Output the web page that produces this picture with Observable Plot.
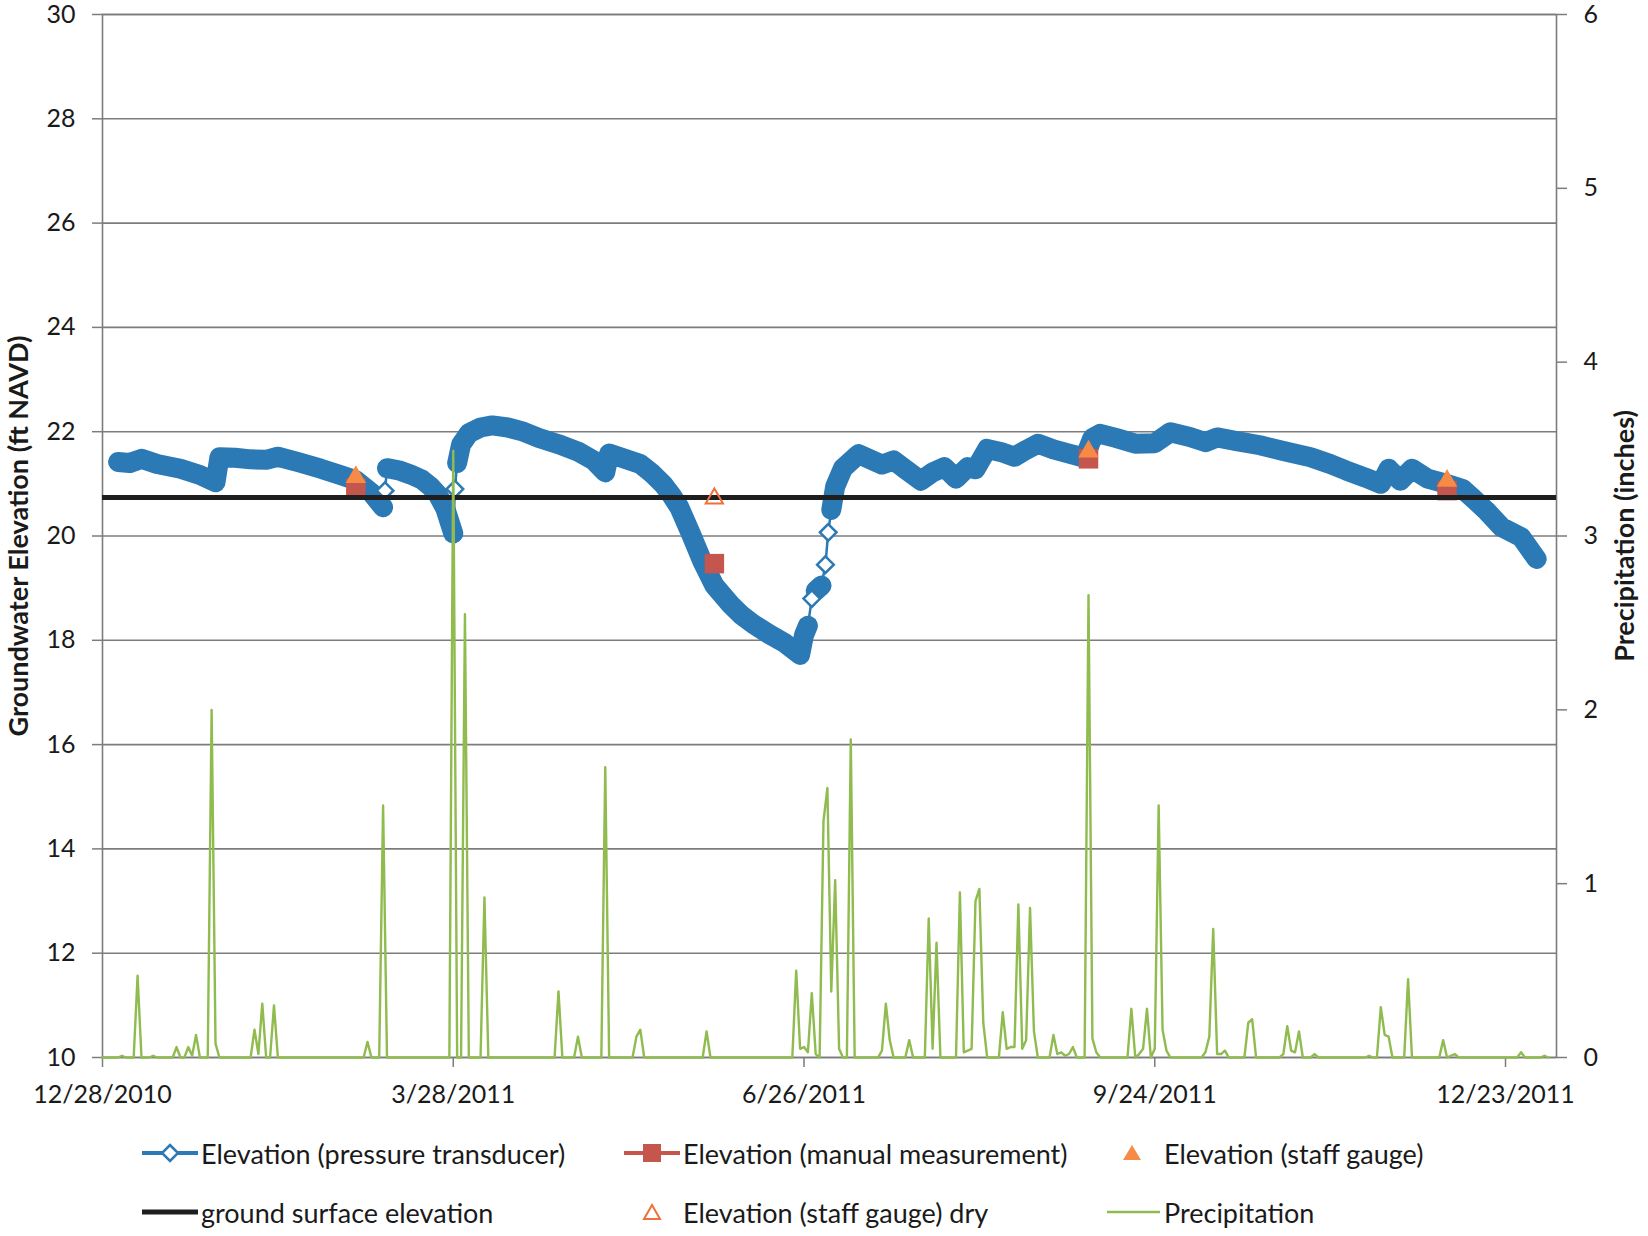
<!DOCTYPE html>
<html>
<head>
<meta charset="utf-8">
<script src="https://cdn.jsdelivr.net/npm/d3@7"></script>
<script src="https://cdn.jsdelivr.net/npm/@observablehq/plot@0.6"></script>
<style>
  html, body { margin: 0; padding: 0; background: #fff; }
  #chart { position: relative; width: 1648px; height: 1236px; font-family: Lato, "Open Sans", sans-serif; color: #1a1a1a; }
  #chart svg { display: block; }
  .legend-item { position: absolute; display: flex; align-items: center; height: 36px; font-size: 27px; white-space: nowrap; }
  .legend-item svg { flex: none; }
</style>
</head>
<body>
<div id="chart"></div>
<script>
// ---- Axes ----
const dateDomain = ["2010-12-28", "2012-01-05T02:00"];
const dateTicks = ["2010-12-28", "2011-03-28", "2011-06-26", "2011-09-24", "2011-12-23"];
const elevationDomain = [10, 30];
const elevationTicks = [10, 12, 14, 16, 18, 20, 22, 24, 26, 28, 30];
const precipMax = 6;
const precipTicks = [0, 1, 2, 3, 4, 5, 6];

// ---- Groundwater elevation, pressure transducer (ft NAVD) ----
const transducer = [
  ["2011-01-01", 21.42], ["2011-01-04", 21.40], ["2011-01-07", 21.48], ["2011-01-11", 21.38],
  ["2011-01-17", 21.29], ["2011-01-22", 21.17], ["2011-01-26", 21.03], ["2011-01-27", 21.51],
  ["2011-01-31", 21.50], ["2011-02-04", 21.47], ["2011-02-08", 21.46], ["2011-02-11", 21.52],
  ["2011-02-16", 21.42], ["2011-02-22", 21.29], ["2011-02-27", 21.17], ["2011-03-03", 21.07],
  ["2011-03-07", 20.83], ["2011-03-10", 20.55], ["2011-03-10T12:00", 20.87], ["2011-03-11", 21.30],
  ["2011-03-14", 21.26], ["2011-03-17", 21.18], ["2011-03-20", 21.08], ["2011-03-22", 20.96],
  ["2011-03-24", 20.80], ["2011-03-26", 20.52], ["2011-03-28", 20.05], ["2011-03-28T10:00", 20.90],
  ["2011-03-29", 21.40], ["2011-03-30", 21.75], ["2011-04-01", 21.97], ["2011-04-04", 22.08],
  ["2011-04-07", 22.12], ["2011-04-11", 22.08], ["2011-04-15", 22.00], ["2011-04-19", 21.88],
  ["2011-04-24", 21.76], ["2011-04-29", 21.62], ["2011-05-03", 21.45], ["2011-05-06", 21.22],
  ["2011-05-07", 21.58], ["2011-05-11", 21.48], ["2011-05-15", 21.38], ["2011-05-18", 21.20],
  ["2011-05-21", 20.98], ["2011-05-23", 20.78], ["2011-05-25", 20.55], ["2011-05-28", 20.04],
  ["2011-05-31", 19.50], ["2011-06-03", 19.05], ["2011-06-07", 18.70], ["2011-06-10", 18.48],
  ["2011-06-13", 18.31], ["2011-06-17", 18.12], ["2011-06-21", 17.95], ["2011-06-25", 17.72],
  ["2011-06-26", 18.10], ["2011-06-27", 18.28], ["2011-06-28", 18.80], ["2011-06-29", 18.95],
  ["2011-06-30T12:00", 19.05], ["2011-07-01T12:00", 19.45], ["2011-07-02T05:00", 20.07], ["2011-07-03", 20.50],
  ["2011-07-04", 20.95], ["2011-07-06", 21.30], ["2011-07-10", 21.57], ["2011-07-13", 21.47],
  ["2011-07-16", 21.37], ["2011-07-19", 21.45], ["2011-07-22", 21.28], ["2011-07-26", 21.06],
  ["2011-07-29", 21.22], ["2011-08-01", 21.32], ["2011-08-04", 21.10], ["2011-08-07", 21.32],
  ["2011-08-09", 21.28], ["2011-08-12", 21.67], ["2011-08-16", 21.60], ["2011-08-19", 21.52],
  ["2011-08-22", 21.65], ["2011-08-25", 21.77], ["2011-08-29", 21.66], ["2011-09-02", 21.58],
  ["2011-09-06", 21.50], ["2011-09-08", 21.88], ["2011-09-10", 21.96], ["2011-09-14", 21.88],
  ["2011-09-19", 21.77], ["2011-09-24", 21.78], ["2011-09-28", 21.99], ["2011-10-03", 21.90],
  ["2011-10-07", 21.80], ["2011-10-10", 21.89], ["2011-10-15", 21.82], ["2011-10-21", 21.74],
  ["2011-10-27", 21.63], ["2011-11-03", 21.51], ["2011-11-08", 21.38], ["2011-11-12", 21.26],
  ["2011-11-17", 21.12], ["2011-11-21", 21.00], ["2011-11-23", 21.29], ["2011-11-26", 21.06],
  ["2011-11-29", 21.29], ["2011-12-03", 21.10], ["2011-12-07", 21.02], ["2011-12-12", 20.90],
  ["2011-12-15", 20.70], ["2011-12-18", 20.49], ["2011-12-22", 20.17], ["2011-12-27", 19.98],
  ["2011-12-31", 19.56]
];
// Readings logged apart from the continuous record (drawn as single open markers)
const transducerIsolated = ["2011-03-10T12:00", "2011-03-28T10:00", "2011-06-28", "2011-07-01T12:00", "2011-07-02T05:00"];

// ---- Spot measurements ----
const manualMeasurement = [["2011-03-03", 20.92], ["2011-06-03", 19.47], ["2011-09-07", 21.48], ["2011-12-08", 20.87]];
const staffGauge = [["2011-03-03", 21.13], ["2011-09-07", 21.62], ["2011-12-08", 21.06]];
const staffGaugeDry = [["2011-06-03", 20.72]];
const groundSurfaceElevation = 20.74;

// ---- Daily precipitation (inches) ----
const precipitation = [
  ["2010-12-28", 0], ["2011-01-01", 0], ["2011-01-02", 0.01], ["2011-01-03", 0], ["2011-01-05", 0],
  ["2011-01-06", 0.47], ["2011-01-07", 0], ["2011-01-09", 0], ["2011-01-10", 0.01], ["2011-01-11", 0],
  ["2011-01-15", 0], ["2011-01-16", 0.06], ["2011-01-17", 0], ["2011-01-18", 0], ["2011-01-19", 0.06],
  ["2011-01-20", 0.01], ["2011-01-21", 0.13], ["2011-01-22", 0], ["2011-01-24", 0], ["2011-01-25", 2.0],
  ["2011-01-26", 0.08], ["2011-01-27", 0],
  ["2011-02-04", 0], ["2011-02-05", 0.16], ["2011-02-06", 0.02], ["2011-02-07", 0.31], ["2011-02-08", 0],
  ["2011-02-09", 0], ["2011-02-10", 0.30], ["2011-02-11", 0],
  ["2011-03-05", 0], ["2011-03-06", 0.09], ["2011-03-07", 0], ["2011-03-09", 0], ["2011-03-10", 1.45],
  ["2011-03-11", 0], ["2011-03-27", 0], ["2011-03-28", 3.49], ["2011-03-29", 0], ["2011-03-30", 0],
  ["2011-03-31", 2.55], ["2011-04-01", 0], ["2011-04-04", 0], ["2011-04-05", 0.92], ["2011-04-06", 0],
  ["2011-04-23", 0], ["2011-04-24", 0.38], ["2011-04-25", 0], ["2011-04-28", 0], ["2011-04-29", 0.12],
  ["2011-04-30", 0], ["2011-05-05", 0], ["2011-05-06", 1.67], ["2011-05-07", 0], ["2011-05-13", 0],
  ["2011-05-14", 0.12], ["2011-05-15", 0.16], ["2011-05-16", 0], ["2011-05-31", 0], ["2011-06-01", 0.15],
  ["2011-06-02", 0], ["2011-06-23", 0], ["2011-06-24", 0.50], ["2011-06-25", 0.05], ["2011-06-26", 0.06],
  ["2011-06-27", 0.03], ["2011-06-28", 0.37], ["2011-06-29", 0.02], ["2011-06-30", 0], ["2011-07-01", 1.36],
  ["2011-07-02", 1.55], ["2011-07-03", 0.38], ["2011-07-04", 1.02], ["2011-07-05", 0.05], ["2011-07-06", 0],
  ["2011-07-07", 0], ["2011-07-08", 1.83], ["2011-07-09", 0], ["2011-07-15", 0], ["2011-07-16", 0.04],
  ["2011-07-17", 0.31], ["2011-07-18", 0.10], ["2011-07-19", 0], ["2011-07-22", 0], ["2011-07-23", 0.10],
  ["2011-07-24", 0], ["2011-07-27", 0], ["2011-07-28", 0.80], ["2011-07-29", 0.05], ["2011-07-30", 0.66],
  ["2011-07-31", 0], ["2011-08-04", 0], ["2011-08-05", 0.95], ["2011-08-06", 0.03], ["2011-08-08", 0.05],
  ["2011-08-09", 0.90], ["2011-08-10", 0.97], ["2011-08-11", 0.20], ["2011-08-12", 0], ["2011-08-15", 0],
  ["2011-08-16", 0.26], ["2011-08-17", 0.05], ["2011-08-18", 0.06], ["2011-08-19", 0.06], ["2011-08-20", 0.88],
  ["2011-08-21", 0.05], ["2011-08-22", 0.10], ["2011-08-23", 0.86], ["2011-08-24", 0.15], ["2011-08-25", 0],
  ["2011-08-28", 0], ["2011-08-29", 0.13], ["2011-08-30", 0.02], ["2011-08-31", 0.03], ["2011-09-01", 0.01],
  ["2011-09-02", 0.02], ["2011-09-03", 0.06], ["2011-09-04", 0], ["2011-09-06", 0], ["2011-09-07", 2.66],
  ["2011-09-08", 0.11], ["2011-09-09", 0.03], ["2011-09-10", 0], ["2011-09-17", 0], ["2011-09-18", 0.28],
  ["2011-09-19", 0], ["2011-09-20", 0.02], ["2011-09-21", 0.05], ["2011-09-22", 0.28], ["2011-09-23", 0],
  ["2011-09-24", 0.05], ["2011-09-25", 1.45], ["2011-09-26", 0.16], ["2011-09-27", 0.04], ["2011-09-28", 0],
  ["2011-10-06", 0], ["2011-10-07", 0.03], ["2011-10-08", 0.12], ["2011-10-09", 0.74], ["2011-10-10", 0.02],
  ["2011-10-11", 0.02], ["2011-10-12", 0.04], ["2011-10-13", 0], ["2011-10-17", 0], ["2011-10-18", 0.20],
  ["2011-10-19", 0.22], ["2011-10-20", 0], ["2011-10-26", 0], ["2011-10-27", 0.02], ["2011-10-28", 0.18],
  ["2011-10-29", 0.04], ["2011-10-30", 0.03], ["2011-10-31", 0.15], ["2011-11-01", 0], ["2011-11-03", 0],
  ["2011-11-04", 0.02], ["2011-11-05", 0], ["2011-11-17", 0], ["2011-11-18", 0.01], ["2011-11-19", 0],
  ["2011-11-20", 0], ["2011-11-21", 0.29], ["2011-11-22", 0.13], ["2011-11-23", 0.12], ["2011-11-24", 0],
  ["2011-11-27", 0], ["2011-11-28", 0.45], ["2011-11-29", 0], ["2011-12-06", 0], ["2011-12-07", 0.10],
  ["2011-12-08", 0], ["2011-12-10", 0.02], ["2011-12-11", 0], ["2011-12-26", 0], ["2011-12-27", 0.03],
  ["2011-12-28", 0], ["2012-01-01", 0], ["2012-01-02", 0.01], ["2012-01-03", 0]
];

// ---- Colours ----
const BLUE = "#2b79b5";
const RED = "#c4564e";
const ORANGE = "#f68b47";
const ORANGE_DRY = "#f0703c";
const GROUND = "#1e1e1e";
const GREEN = "#8fbb4f";
const GRID = "#7c7c7c";

const parseDate = s => new Date(s.includes("T") ? s + ":00Z" : s + "T00:00:00Z");
// Precipitation shares the plot frame: 0–6 in. spans the same height as 10–30 ft.
const precipToElev = p => elevationDomain[0] + p / precipMax * (elevationDomain[1] - elevationDomain[0]);
const elevToPrecip = y => (y - elevationDomain[0]) / (elevationDomain[1] - elevationDomain[0]) * precipMax;

const transducerRows = transducer.map(([d, v]) => ({date: parseDate(d), elev: v, isolated: transducerIsolated.includes(d)}));
const pointRows = arr => arr.map(([d, v]) => ({date: parseDate(d), elev: v}));
const precipRows = precipitation.map(([d, p]) => ({date: parseDate(d), p}));

const chart = Plot.plot({
  width: 1648,
  height: 1122,
  marginTop: 14,
  marginBottom: 65,
  marginLeft: 102,
  marginRight: 92,
  style: {fontFamily: "Lato, 'Open Sans', sans-serif", fontSize: "25px", color: "#1a1a1a", background: "#fff", overflow: "visible"},
  x: {type: "utc", domain: dateDomain.map(parseDate)},
  y: {domain: elevationDomain},
  marks: [
    Plot.gridY(elevationTicks, {stroke: GRID, strokeOpacity: 1, strokeWidth: 1.6}),
    Plot.frame({stroke: GRID, strokeWidth: 1.6}),
    Plot.axisY(elevationTicks, {
      anchor: "left", tickSize: 10, tickPadding: 17, stroke: GRID, strokeWidth: 1.5, label: null,
      tickFormat: d => String(d)
    }),
    Plot.axisY(precipTicks.map(precipToElev), {
      anchor: "right", tickSize: 10, tickPadding: 17, stroke: GRID, strokeWidth: 1.5, label: null,
      tickFormat: y => String(Math.round(elevToPrecip(y)))
    }),
    Plot.axisX(dateTicks.map(parseDate), {
      anchor: "bottom", tickSize: 10, tickPadding: 18, stroke: GRID, strokeWidth: 1.5, label: null,
      tickFormat: d3.utcFormat("%-m/%-d/%Y")
    }),
    // pressure transducer: thin connector through every reading
    Plot.line(transducerRows, {x: "date", y: "elev", stroke: BLUE, strokeWidth: 2.5}),
    // dense logging shows as a solid band of overlapping markers
    Plot.line(transducerRows, {
      x: "date", y: d => d.isolated ? NaN : d.elev,
      stroke: BLUE, strokeWidth: 20, strokeLinejoin: "round", strokeLinecap: "round"
    }),
    Plot.dot(transducerRows.filter(d => d.isolated), {
      x: "date", y: "elev", symbol: "diamond2", r: 7.5, fill: "#fff", stroke: BLUE, strokeWidth: 2.5
    }),
    Plot.dot(pointRows(manualMeasurement), {x: "date", y: "elev", symbol: "square", r: 11, fill: RED}),
    Plot.dot(pointRows(staffGauge), {x: "date", y: "elev", symbol: "triangle", r: 7.6, fill: ORANGE}),
    Plot.ruleY([groundSurfaceElevation], {stroke: GROUND, strokeWidth: 5}),
    Plot.dot(pointRows(staffGaugeDry), {x: "date", y: "elev", symbol: "triangle", r: 6.4, fill: "none", stroke: ORANGE_DRY, strokeWidth: 2}),
    Plot.line(precipRows, {x: "date", y: d => precipToElev(d.p), stroke: GREEN, strokeWidth: 2.4}),
    // axis titles
    Plot.text(["Groundwater Elevation (ft NAVD)"], {
      text: d => d, frameAnchor: "left", rotate: -90, dx: -83,
      textAnchor: "middle", lineAnchor: "middle", fontWeight: "bold", fontSize: 27, fill: "#1a1a1a"
    }),
    Plot.text(["Precipitation (inches)"], {
      text: d => d, frameAnchor: "right", rotate: -90, dx: 69,
      textAnchor: "middle", lineAnchor: "middle", fontWeight: "bold", fontSize: 27, fill: "#1a1a1a"
    })
  ]
});

const root = document.getElementById("chart");
root.appendChild(chart);

// ---- Legend (two rows, three columns) ----
const lineSwatch = (color, width) => `<line x1="1" x2="57" y1="15" y2="15" stroke="${color}" stroke-width="${width}"/>`;
const legendItems = [
  {label: "Elevation (pressure transducer)", col: 0, row: 0,
   svg: lineSwatch(BLUE, 4) + `<path d="M29,7 L37,15 L29,23 L21,15Z" fill="#fff" stroke="${BLUE}" stroke-width="2.5"/>`},
  {label: "Elevation (manual measurement)", col: 1, row: 0,
   svg: lineSwatch(RED, 4) + `<rect x="20" y="6" width="18" height="18" fill="${RED}"/>`},
  {label: "Elevation (staff gauge)", col: 2, row: 0,
   svg: `<path d="M28,7 L37,22 L19,22Z" fill="${ORANGE}"/>`},
  {label: "ground surface elevation", col: 0, row: 1,
   svg: lineSwatch(GROUND, 5)},
  {label: "Elevation (staff gauge) dry", col: 1, row: 1,
   svg: `<path d="M29,8 L37,22 L21,22Z" fill="none" stroke="${ORANGE_DRY}" stroke-width="2"/>`},
  {label: "Precipitation", col: 2, row: 1,
   svg: `<line x1="3" x2="56" y1="15" y2="15" stroke="${GREEN}" stroke-width="2.5"/>`}
];
const columnLeft = [141, 623, 1104];
const rowCenter = [1153, 1212];
for (const item of legendItems) {
  const el = document.createElement("div");
  el.className = "legend-item";
  el.style.left = columnLeft[item.col] + "px";
  el.style.top = (rowCenter[item.row] - 18) + "px";
  el.innerHTML = `<svg width="60" height="30" viewBox="0 0 60 30">${item.svg}</svg><span>${item.label}</span>`;
  root.appendChild(el);
}
</script>
</body>
</html>
